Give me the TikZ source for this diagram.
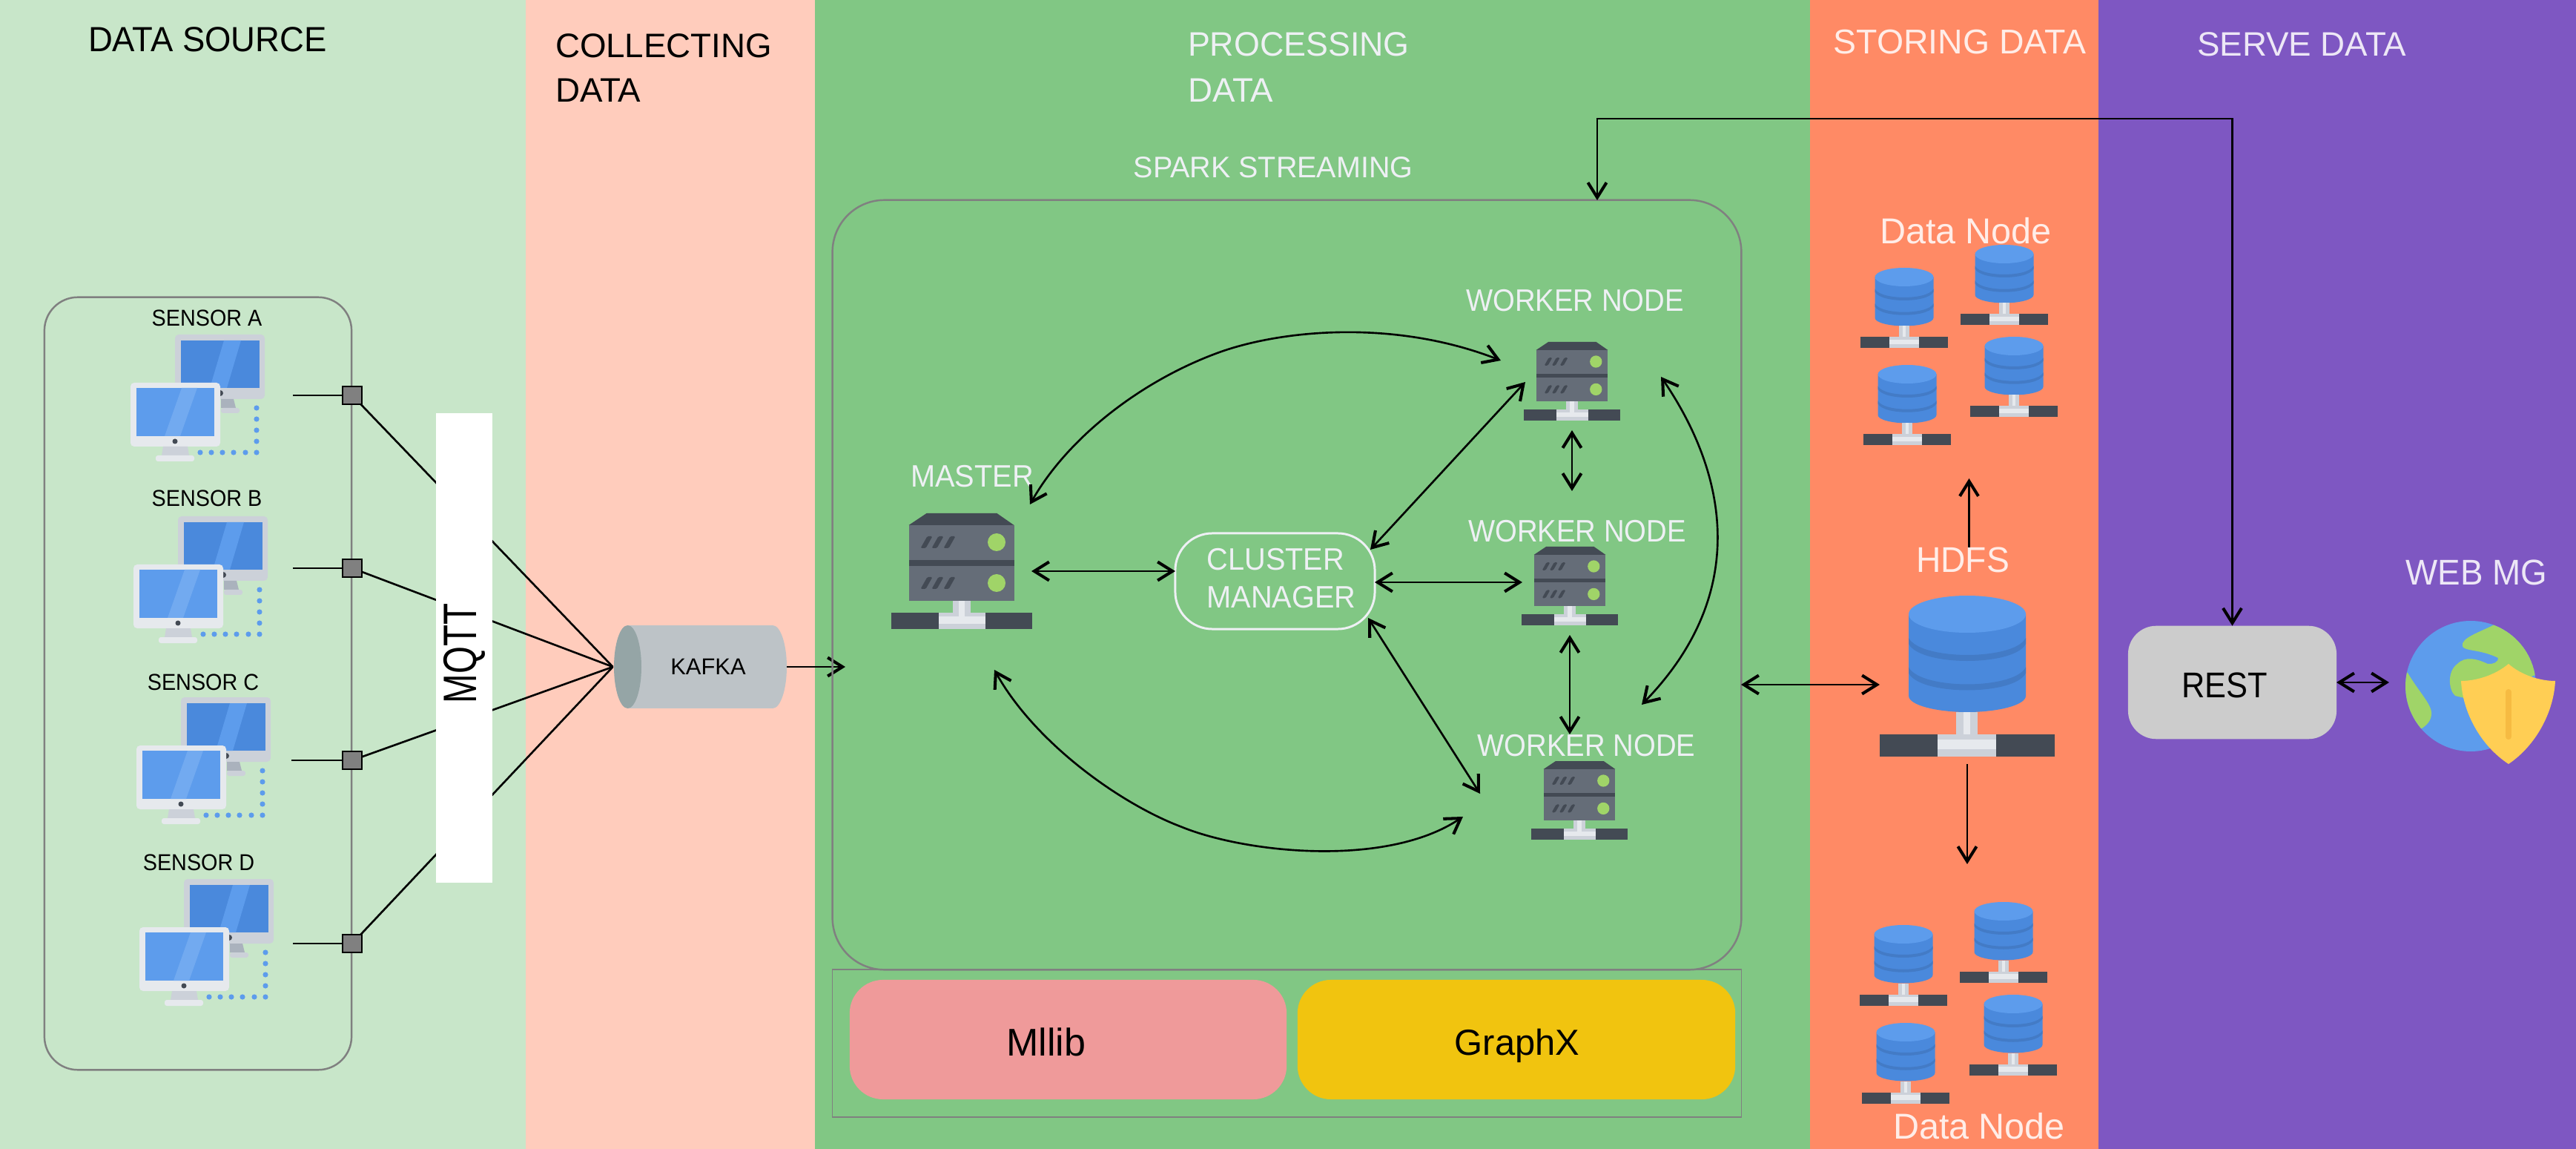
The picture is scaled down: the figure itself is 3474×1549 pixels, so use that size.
\documentclass[tikz,border=0pt]{standalone}
\usepackage{fontspec}
\usepackage{graphicx}
\setmainfont{Liberation Sans}
\usetikzlibrary{arrows.meta}
\definecolor{bandA}{HTML}{C8E6C9}
\definecolor{bandB}{HTML}{FFCCBC}
\definecolor{bandC}{HTML}{81C784}
\definecolor{bandD}{HTML}{FF8A65}
\definecolor{bandE}{HTML}{7E57C2}
\definecolor{lightG}{HTML}{E6E9ED}
\definecolor{midG}{HTML}{CCD1D9}
\definecolor{darkG}{HTML}{AAB2BD}
\definecolor{slate}{HTML}{656D78}
\definecolor{slateD}{HTML}{434A54}
\definecolor{blueA}{HTML}{5D9CEC}
\definecolor{blueB}{HTML}{4A89DC}
\definecolor{blueC}{HTML}{437BC6}
\definecolor{blueD}{HTML}{72AAF0}
\definecolor{leaf}{HTML}{A0D468}
\definecolor{shieldA}{HTML}{FFCE54}
\definecolor{shieldB}{HTML}{F6BB42}
\definecolor{pale}{HTML}{EEF0F4}
\definecolor{palePeach}{HTML}{FFEDE8}
\definecolor{palePurple}{HTML}{EDE7F6}
\definecolor{kafkaBody}{HTML}{BDC3C7}
\definecolor{kafkaEnd}{HTML}{95A5A6}
\definecolor{mlPink}{HTML}{EF9A9A}
\definecolor{gxYellow}{HTML}{F1C40F}
\newcommand{\narrow}[2]{\scalebox{#1}[1]{#2}}
\tikzset{
  every node/.style={inner sep=0pt,outer sep=0pt},
  txt/.style={font=\fontsize{#1}{#1}\selectfont},
  frameline/.style={draw=black!50,line width=0.7pt},
  conn/.style={draw=black,line width=0.75pt},
  biarrow/.style={conn,{Straight Barb[length=0.2cm,width=0.25cm,line width=1.15pt]}-{Straight Barb[length=0.2cm,width=0.25cm,line width=1.15pt]}},
  onearrow/.style={conn,-{Straight Barb[length=0.2cm,width=0.25cm,line width=1.15pt]}},
  plug/.style={draw=black,line width=0.7pt,fill=black!50,minimum width=0.26cm,minimum height=0.24cm},
  pcpair/.pic={
    \fill[midG,rounded corners=0.05cm] (60,-65) rectangle (181,22);
    \fill[blueB] (68,-57) rectangle (174,7);
    \fill[blueA] (126,-57) -- (149,-57) -- (130,7) -- (107,7) -- cycle;
    \fill[slateD] (121,14) circle (4);
    \fill[darkG] (122,22) -- (139,22) -- (142,34) -- (122,34) -- cycle;
    \fill[midG,rounded corners=0.03cm] (122,34) rectangle (147,41);
    \fill[lightG,rounded corners=0.05cm] (0,0) rectangle (121,86);
    \fill[blueA] (8,7) rectangle (113,72);
    \fill[blueD] (69,7) -- (90,7) -- (67,72) -- (46,72) -- cycle;
    \fill[slateD] (60,79) circle (3.5);
    \fill[midG] (44,86) -- (77,86) -- (79,98) -- (42,98) -- cycle;
    \fill[lightG,rounded corners=0.03cm] (34,98) rectangle (86,106);
    \foreach \dy in {34,49,64,79,94} \fill[blueA] (170,\dy) circle (3.6);
    \foreach \dx in {94,109,124,139,155} \fill[blueA] (\dx,94) circle (3.6);
  },
  server/.pic={
    \fill[slateD] (-47,0) -- (48,0) -- (71,16) -- (-71,16) -- cycle;
    \fill[slate] (-71,16) rectangle (71,118);
    \fill[slateD] (-71,63) rectangle (71,71);
    \foreach \yy in {39,94}{
      \fill[leaf] (47.5,\yy) circle (12);
      \foreach \xx in {-47,-32,-16}
        \fill[slateD,rounded corners=0.015cm] (\xx-8,\yy+8) -- (\xx-1,\yy+8) -- (\xx+8,\yy-8) -- (\xx+1,\yy-8) -- cycle;
    }
    \fill[midG] (-12,118) rectangle (12,134);
    \fill[lightG] (-4,118) rectangle (4,134);
    \fill[slateD] (-95,134) rectangle (95,156);
    \fill[midG] (-31,134) rectangle (32,156);
    \fill[lightG] (-31,139) rectangle (32,149);
    \fill[lightG] (-4,134) rectangle (4,140);
  },
  dbstack/.pic={
    \fill[blueB] (-79,25) -- (-79,135) .. controls (-79,148) and (-40,157) .. (0,157) .. controls (40,157) and (79,148) .. (79,135) -- (79,25) -- cycle;
    \foreach \dy in {0,39.5}
      \fill[blueC] (-79,57+\dy) .. controls (-70,74+\dy) and (-30,80+\dy) .. (0,80+\dy) .. controls (30,80+\dy) and (70,74+\dy) .. (79,57+\dy) -- (79,65+\dy) .. controls (70,82+\dy) and (30,88+\dy) .. (0,88+\dy) .. controls (-30,88+\dy) and (-70,82+\dy) .. (-79,65+\dy) -- cycle;
    \fill[blueA] (0,25) ellipse [x radius=79,y radius=25];
    \fill[midG] (-15,157) rectangle (14,187);
    \fill[lightG] (-5,157) rectangle (4,193);
    \fill[slateD] (-118,187) rectangle (118,217);
    \fill[midG] (-40,187) rectangle (39,217);
    \fill[lightG] (-40,194) rectangle (39,207);
  }
}
\begin{document}
\begin{tikzpicture}[x=0.01cm,y=-0.01cm]
\useasboundingbox (0,0) rectangle (3474,1549);
% bands
\fill[bandA] (0,0) rectangle (709,1549);
\fill[bandB] (709,0) rectangle (1099,1549);
\fill[bandC] (1099,0) rectangle (2441,1549);
\fill[bandD] (2441,0) rectangle (2830,1549);
\fill[bandE] (2830,0) rectangle (3474,1549);
% titles
\node[txt=13.4pt] (tSource) at (280,53) {\narrow{0.965}{DATA SOURCE}};
\node[txt=13pt,anchor=west] (tCollectA) at (749,62) {COLLECTING};
\node[txt=13pt,anchor=west] (tCollectB) at (749,122) {DATA};
\node[txt=13pt,anchor=west,text=pale] (tProcA) at (1602,60) {\narrow{0.98}{PROCESSING}};
\node[txt=13pt,anchor=west,text=pale] (tProcB) at (1602,122) {DATA};
\node[txt=13.2pt,text=palePeach] (tStore) at (2643,57) {STORING DATA};
\node[txt=13pt,text=palePurple] (tServe) at (3104,60) {SERVE DATA};
\node[txt=11.4pt,text=pale] (tSpark) at (1717,226) {\narrow{0.985}{SPARK STREAMING}};
% sensor frame
\node[frameline,rounded corners=0.45cm,minimum width=4.14cm,minimum height=10.41cm] (sensorFrame) at (267,921.5) {};
% sensors
\pic at (176,516) {pcpair};
\pic at (180,761) {pcpair};
\pic at (184,1005) {pcpair};
\pic at (188,1250) {pcpair};
\node[txt=8.8pt] (labA) at (279,429) {\narrow{0.93}{SENSOR A}};
\node[txt=8.8pt] (labB) at (279,672) {\narrow{0.93}{SENSOR B}};
\node[txt=8.8pt] (labC) at (274,920) {\narrow{0.93}{SENSOR C}};
\node[txt=8.8pt] (labD) at (268,1163) {\narrow{0.93}{SENSOR D}};
% connection squares
\coordinate (kafkaIn) at (826.5,899);
\coordinate (outA) at (395,533);
\coordinate (outB) at (395,766);
\coordinate (outC) at (393,1025);
\coordinate (outD) at (395,1272);
\node[plug] (sqA) at (475,533) {};
\node[plug] (sqB) at (475,766) {};
\node[plug] (sqC) at (475,1025) {};
\node[plug] (sqD) at (475,1272) {};
\foreach \s/\o in {sqA/outA,sqB/outB,sqC/outC,sqD/outD}{
  \draw[conn] (\o) -- (\s.west);
  \draw[conn] (\s.center) -- (kafkaIn);
}
\foreach \s in {sqA,sqB,sqC,sqD}
  \node[plug] at (\s.center) {};
% MQTT
\node[fill=white,minimum width=0.76cm,minimum height=6.33cm] (mqtt) at (626,873.5) {};
\node[txt=18pt,rotate=90] (mqttText) at (626,881) {\narrow{0.75}{MQTT}};
% Kafka
\fill[kafkaBody] (846.5,843) rectangle (1042,955);
\fill[kafkaBody] (1042,899) ellipse [x radius=19,y radius=56];
\fill[kafkaEnd] (846.5,899) ellipse [x radius=18.5,y radius=56];
\node[txt=8.8pt] (kafka) at (955,899) {KAFKA};
\coordinate (kafkaOut) at (1061,899);
\coordinate (sparkIn) at (1140,899);
\draw[onearrow] (kafkaOut) -- (sparkIn);
% spark frame
\node[frameline,rounded corners=0.7cm,minimum width=12.25cm,minimum height=10.37cm] (spark) at (1735.5,788.5) {};
\node[draw=black!50,line width=0.45pt,minimum width=12.25cm,minimum height=1.99cm] (libs) at (1735.5,1406.5) {};
\node[fill=mlPink,rounded corners=0.45cm,minimum width=5.89cm,minimum height=1.61cm] (mllibBox) at (1440.5,1401.5) {};
\node[fill=gxYellow,rounded corners=0.45cm,minimum width=5.9cm,minimum height=1.61cm] (graphxBox) at (2045,1401.5) {};
\node[txt=14.8pt] (mllib) at (1411,1405) {Mllib};
\node[txt=13.9pt] (graphx) at (2046,1410) {GraphX};
% servers
\pic at (1296.5,692) {server};
\pic[scale=0.68] at (2120,461) {server};
\pic[scale=0.68] at (2117,737) {server};
\pic[scale=0.68] at (2130,1026) {server};
\node[txt=11.9pt,text=pale] (master) at (1311,642) {\narrow{0.95}{MASTER}};
\node[txt=11.9pt,text=pale] (workA) at (2124,405) {\narrow{0.915}{WORKER NODE}};
\node[txt=11.9pt,text=pale] (workB) at (2127,716) {\narrow{0.915}{WORKER NODE}};
\node[txt=11.9pt,text=pale] (workC) at (2139.5,1005) {\narrow{0.915}{WORKER NODE}};
% cluster manager
\node[draw=pale,line width=0.85pt,rounded corners=0.5cm,minimum width=2.69cm,minimum height=1.29cm] (cluster) at (1719.5,783.5) {};
\node[font=\fontsize{11.9pt}{14.5pt}\selectfont,text=pale,align=left] (clusterText) at (1728,779.5) {\narrow{0.95}{CLUSTER}\\\narrow{0.95}{MANAGER}};
% connector ends
\coordinate (mR) at (1391,770);
\coordinate (mTop) at (1389,680);
\coordinate (mBot) at (1341,903);
\coordinate (cL) at (1585,770);
\coordinate (cR) at (1854,785);
\coordinate (cTR) at (1848,741);
\coordinate (cBR) at (1845,833);
\coordinate (wAL) at (2057,515);
\coordinate (wAup) at (2024,486);
\coordinate (wAB) at (2120,580);
\coordinate (wAR) at (2240,508);
\coordinate (wBL) at (2053,785);
\coordinate (wBT) at (2120,662);
\coordinate (wBB) at (2117,856);
\coordinate (wCT) at (2117,990);
\coordinate (wCTR) at (2214,950);
\coordinate (wCL) at (1996,1070);
\coordinate (wCLb) at (1973,1101);
\draw[biarrow] (mR) -- (cL);
\draw[biarrow] (cR) -- (wBL);
\draw[biarrow] (cTR) -- (wAL);
\draw[biarrow] (cBR) -- (wCL);
\draw[biarrow] (wAB) -- (wBT);
\draw[biarrow] (wBB) -- (wCT);
\draw[biarrow] (mTop) .. controls (1440,590) and (1540,512) .. (1647,474) .. controls (1730,445) and (1880,430) .. (wAup);
\draw[biarrow] (mBot) .. controls (1395,1000) and (1509,1083) .. (1594,1115) .. controls (1680,1150) and (1870,1170) .. (wCLb);
\draw[biarrow] (wAR) .. controls (2330,640) and (2360,800) .. (wCTR);
% storage
\pic at (2653,803) {dbstack};
\pic[scale=0.5] at (2568,361) {dbstack};
\pic[scale=0.5] at (2703,330) {dbstack};
\pic[scale=0.5] at (2572,492) {dbstack};
\pic[scale=0.5] at (2716,454) {dbstack};
\pic[scale=0.5] at (2567,1247) {dbstack};
\pic[scale=0.5] at (2702,1216) {dbstack};
\pic[scale=0.5] at (2570,1379) {dbstack};
\pic[scale=0.5] at (2715,1341) {dbstack};
\node[txt=13.8pt,text=palePeach] (dnTop) at (2651,311) {Data Node};
\node[txt=13.8pt,text=palePeach] (dnBot) at (2669,1518) {Data Node};
\node[txt=13.7pt,text=palePeach] (hdfs) at (2647,755) {\narrow{0.96}{HDFS}};
\coordinate (hUp) at (2655.5,738);
\coordinate (dnUp) at (2655.5,645);
\coordinate (hDown) at (2653,1030);
\coordinate (dnDown) at (2653,1165);
\coordinate (hL) at (2535,923);
\coordinate (sparkR) at (2348,923);
\draw[onearrow] (hUp) -- (dnUp);
\draw[onearrow] (hDown) -- (dnDown);
\draw[biarrow] (sparkR) -- (hL);
% REST
\node[fill=black!20,rounded corners=0.38cm,minimum width=2.81cm,minimum height=1.525cm] (rest) at (3010.5,920) {};
\node[txt=13.7pt] (restText) at (3000,924) {\narrow{0.9}{REST}};
\coordinate (longBend) at (2154,160);
\coordinate (sparkTop) at (2154,270);
\draw[biarrow] (rest.north) |- (longBend) -- (sparkTop);
\coordinate (globeL) at (3222,920);
\coordinate (restR) at (3151,920);
\draw[biarrow] (restR) -- (globeL);
% globe
\node[txt=13.7pt,text=palePurple] (webmg) at (3340,772) {\narrow{0.95}{WEB MG}};
\begin{scope}
  \clip (3332,925) circle (88);
  \fill[blueA] (3332,925) circle (88);
  \fill[leaf] (3364,842) .. controls (3345,852) and (3318,860) .. (3321,871) .. controls (3322,878) and (3345,875) .. (3369,887) .. controls (3370,892) and (3362,896) .. (3355,895) .. controls (3340,888) and (3325,884) .. (3314,895) .. controls (3300,905) and (3302,930) .. (3311,938) -- (3340,945) -- (3430,905) -- (3430,880) -- (3400,860) -- cycle;
  \fill[leaf] (3240,905) -- (3247,907) .. controls (3260,930) and (3280,950) .. (3279,962) .. controls (3279,972) and (3272,978) .. (3266,982) -- (3240,985) -- cycle;
\end{scope}
\fill[shieldA] (3383,895) .. controls (3365,910) and (3340,918) .. (3319,918) .. controls (3321,960) and (3345,1005) .. (3383,1030) .. controls (3420,1005) and (3444,960) .. (3446,918) .. controls (3425,918) and (3400,910) .. (3383,895) -- cycle;
\draw[shieldB,line width=2.3pt,line cap=round] (3383,933) -- (3383,993);
\end{tikzpicture}
\end{document}
